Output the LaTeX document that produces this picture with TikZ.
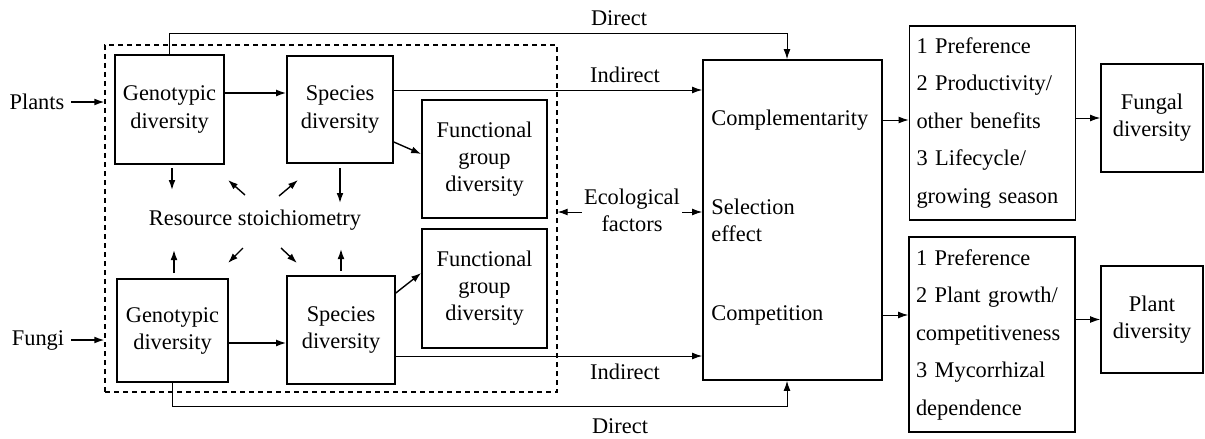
\documentclass[tikz,border=0pt]{standalone}
\usepackage{fontspec}
\setmainfont{Liberation Serif}
\usetikzlibrary{arrows.meta,positioning,calc}

\begin{document}
\begin{tikzpicture}[x=0.5pt,y=-0.5pt,
  font=\fontsize{11.2}{13.5}\selectfont,
  box/.style={rectangle,draw,line width=0.8pt,align=center,inner sep=0pt},
  listbox/.style={rectangle,draw,line width=0.8pt,align=left,text width=76pt,inner xsep=3.5pt,font=\fontsize{11.2}{18.75}\selectfont},
  lbl/.style={inner sep=1pt},
  arrow/.style={-{Latex[length=5pt,width=3.4pt]},line width=0.7pt},
  link/.style={-{Latex[length=5pt,width=3.4pt]},line width=0.5pt}
]
\useasboundingbox (0,0) rectangle (1205,439);
\node[draw,dash pattern=on 2.5pt off 2pt,line width=0.6pt,minimum width=226pt,minimum height=173.5pt,inner sep=0pt] (grp) at (331,218.5) {};
\node[box,minimum width=54.5pt,minimum height=54.5pt] (pgen) at (169.5,109.5) {Genotypic\\diversity};
\node[box,minimum width=53pt,minimum height=53.5pt] (pspe) at (340,109.5) {Species\\diversity};
\node[box,minimum width=62.5pt,minimum height=59pt] (pfun) at (484.5,159) {Functional\\group\\diversity};
\node[box,minimum width=55.5pt,minimum height=51.5pt] (fgen) at (172.5,330.5) {Genotypic\\diversity};
\node[box,minimum width=54pt,minimum height=54pt] (fspe) at (341,330) {Species\\diversity};
\node[box,minimum width=62.5pt,minimum height=59.5pt] (ffun) at (484.5,288.5) {Functional\\group\\diversity};
\node (res) at (255,220) {Resource stoichiometry};
\node (plants) at (37,102) {Plants};
\node (fungi) at (38,340) {Fungi};
\node[box,minimum width=89.5pt,minimum height=160pt] (mech) at (792.5,220) {};
\node[anchor=west,inner sep=0pt] (compl) at (711,120) {Complementarity};
\node[anchor=west,inner sep=0pt,align=left] (selec) at (711,220) {Selection\\effect};
\node[anchor=west,inner sep=0pt] (compet) at (711,315) {Competition};
\node[lbl,align=center] (eco) at (632,210) {Ecological\\factors};
\node[listbox,minimum height=97pt] (list1) at (992.5,123) {1 Preference\\2 Productivity/\\other benefits\\3 Lifecycle/\\growing season};
\node[listbox,minimum height=97.5pt] (list2) at (992,334.5) {1 Preference\\2 Plant growth/\\competitiveness\\3 Mycorrhizal\\dependence};
\node[box,minimum width=51pt,minimum height=54pt] (fdiv) at (1152,118) {Fungal\\diversity};
\node[box,minimum width=51pt,minimum height=53.5pt] (pdiv) at (1152,319.5) {Plant\\diversity};
\node[lbl] (dtop) at (619,18) {Direct};
\node[lbl] (itop) at (625,75) {Indirect};
\node[lbl] (ibot) at (625,372) {Indirect};
\node[inner sep=0pt] (dbot) at (620,426) {Direct};

\draw[arrow] (plants) -- (plants -| grp.west);
\draw[arrow] (fungi) -- (fungi -| grp.west);
\draw[arrow] (pgen.east |- 0,93) -- (pspe.west |- 0,93);
\draw[arrow] (fgen.east |- 0,343) -- (fspe.west |- 0,343);
\draw[arrow] (pspe.east |- 0,142) -- (pfun.west |- 0,154);
\draw[arrow] (fspe.east |- 0,293) -- (ffun.west |- 0,273);
\draw[arrow] (172,168) -- (172,190);
\draw[arrow] (245,195) -- (228,180);
\draw[arrow] (279,196) -- (298,180);
\draw[arrow] (340,168) -- (340,203);
\draw[arrow] (174,273) -- (174,250);
\draw[arrow] (243,248) -- (228,263);
\draw[arrow] (281,248) -- (297,263);
\draw[arrow] (341,271) -- (341,249);
\draw[link] (pgen.north) -- (pgen.north |- 0,33) -| ([xshift=-2.75pt]mech.north);
\draw[link] (pspe.east |- 0,90) -- (mech.west |- 0,90);
\draw[link] (fspe.east |- 0,356) -- (mech.west |- 0,356);
\draw[link] (fgen.south) -- (fgen.south |- 0,406) -| ([xshift=-2.75pt]mech.south);
\draw[link] (eco.west |- 0,212) -- (grp.east |- 0,212);
\draw[link] (eco.east |- 0,212) -- (mech.west |- 0,212);
\draw[link] (compl -| mech.east) -- (compl -| list1.west);
\draw[link] (compet -| mech.east) -- (compet -| list2.west);
\draw[link] (fdiv -| list1.east) -- (fdiv.west);
\draw[link] (pdiv -| list2.east) -- (pdiv.west);
\end{tikzpicture}
\end{document}
